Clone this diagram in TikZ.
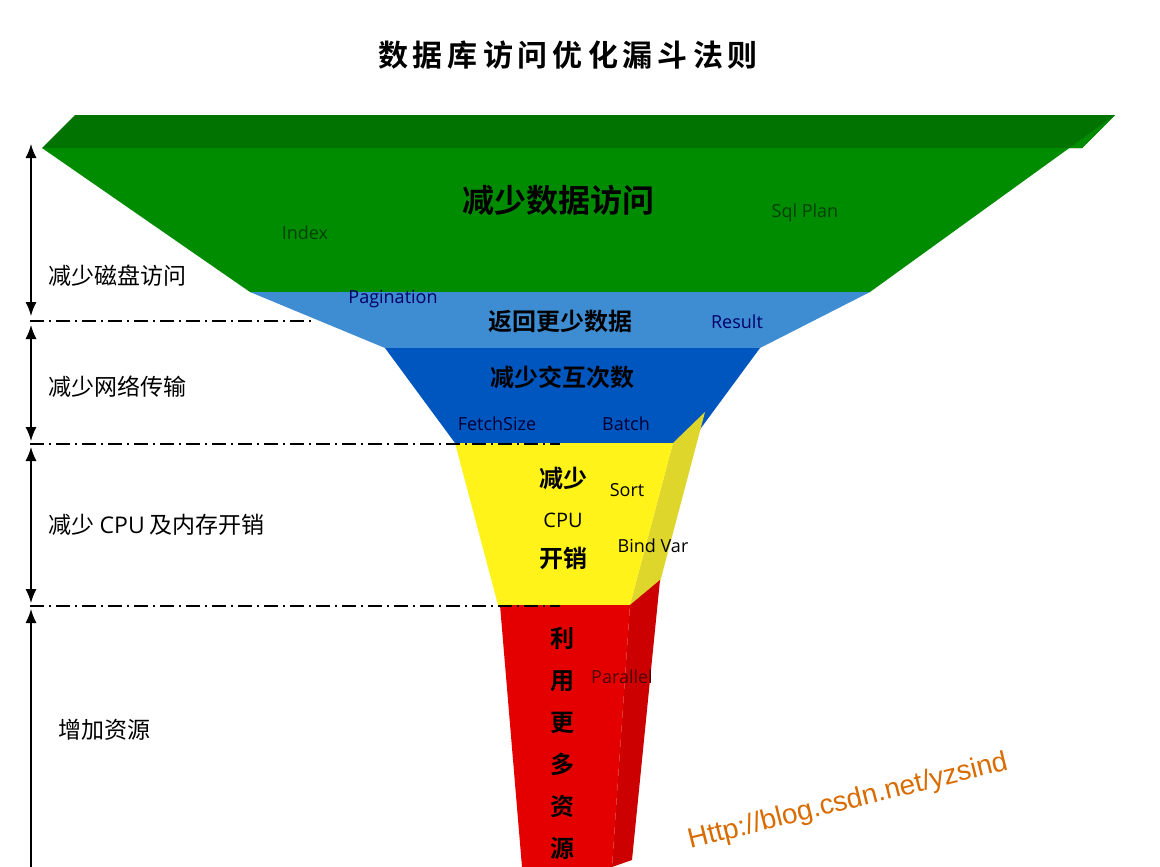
\documentclass[tikz,border=0pt]{standalone}
\usepackage{fontspec}
\usetikzlibrary{arrows.meta}
\setmainfont{Open Sans}
\newfontfamily\cjk{Noto Sans CJK SC}
\newfontfamily\cjkb{Noto Sans CJK SC Bold}
\begin{document}
\begin{tikzpicture}[x=1pt,y=-1pt,
  lbl/.style={font=\cjk\fontsize{23}{26}\selectfont,anchor=west},
  big/.style={font=\cjkb\fontsize{24}{28}\selectfont},
  eng/.style={font=\fontsize{18}{20}\selectfont},
  sep/.style={dash pattern=on 14pt off 5pt on 2pt off 5pt,line width=1.5pt},
  dim/.style={{Latex[length=14pt,width=11pt]}-{Latex[length=14pt,width=11pt]},line width=1.3pt},
  dimone/.style={-{Latex[length=14pt,width=11pt]},line width=1.3pt}]
\useasboundingbox (0,0) rectangle (1160,867);
\fill[white] (0,0) rectangle (1160,867);
\node (title) at (568,55) {\cjkb\fontsize{30}{34}\selectfont 数\,据\,库\,访\,问\,优\,化\,漏\,斗\,法\,则};
% funnel
\fill[green!45!black] (75,115)--(1115,115)--(1082,148)--(42,148)--cycle;
\fill[green!55!black] (42,148)--(1082,148)--(1115,115)--(870,292)--(250,292)--cycle;
\fill[cyan!60!blue!80!white] (250,292)--(870,292)--(760,348)--(385,348)--cycle;
\fill[blue!55!cyan!75!black] (385,348)--(760,348)--(690,443)--(455,443)--cycle;
\fill[yellow!85!black!95] (673,443)--(705,412)--(660,582)--(630,605)--cycle;
\fill[yellow!90!white] (455,443)--(673,443)--(630,605)--(498,605)--cycle;
\fill[red!80!black] (630,605)--(660,580)--(632,860)--(612,867)--cycle;
\fill[red!90!black] (500,605)--(630,605)--(612,867)--(522,867)--cycle;
% separators and dimension arrows
\coordinate (s1a) at (30,321); \coordinate (s1b) at (315,321);
\coordinate (s2a) at (30,444); \coordinate (s2b) at (560,444);
\coordinate (s3a) at (30,606); \coordinate (s3b) at (560,606);
\draw[sep] (s1a)--(s1b); \draw[sep] (s2a)--(s2b); \draw[sep] (s3a)--(s3b);
\coordinate (a1) at (31,144); \coordinate (b1) at (31,316);
\coordinate (a2) at (31,325); \coordinate (b2) at (31,441);
\coordinate (a3) at (31,447); \coordinate (b3) at (31,603);
\coordinate (a4) at (31,609); \coordinate (b4) at (31,880);
\draw[dim] (a1)--(b1); \draw[dim] (a2)--(b2); \draw[dim] (a3)--(b3);
\draw[dimone] (b4)--(a4);
\node[lbl] (l1) at (45,276) {减少磁盘访问};
\node[lbl] (l2) at (45,387) {减少网络传输};
\node[lbl] (l3) at (45,525) {减少 {\rmfamily CPU} 及内存开销};
\node[lbl] (l4) at (55,730) {增加资源};
% inner labels
\node[big,font=\cjkb\fontsize{32}{36}\selectfont] (t1) at (558,200) {减少数据访问};
\node[eng,text=green!25!black] (i1) at (305,233) {Index};
\node[eng,text=green!25!black] (i2) at (805,213) {Sql Plan};
\node[eng,text=blue!40!black] (i3) at (393,299) {Pagination};
\node[big] (t2) at (560,321) {返回更少数据};
\node[eng,text=blue!40!black] (i4) at (737,322) {Result};
\node[big] (t3) at (562,377) {减少交互次数};
\node[eng,text=blue!20!black] (i5) at (497,424) {FetchSize};
\node[eng,text=blue!20!black] (i6) at (626,424) {Batch};
\node[big,align=center,font=\cjkb\fontsize{24}{40}\selectfont] (t4) at (563,518) {减少\\{\fontspec{Open Sans}\fontsize{20}{40}\selectfont CPU}\\开销};
\node[eng] (i7) at (627,490) {Sort};
\node[eng] (i8) at (653,546) {Bind Var};
\node[big,align=center,font=\cjkb\fontsize{24}{42}\selectfont] (t5) at (562,743) {利\\用\\更\\多\\资\\源};
\node[eng,text=red!30!black] (i9) at (622,677) {Parallel};
\node[rotate=14,inner sep=0pt,text=orange!85!black,font=\fontspec{Liberation Sans}\fontsize{28}{30}\selectfont] (wm) at (848,802) {Http://blog.csdn.net/yzsind};
\end{tikzpicture}
\end{document}
